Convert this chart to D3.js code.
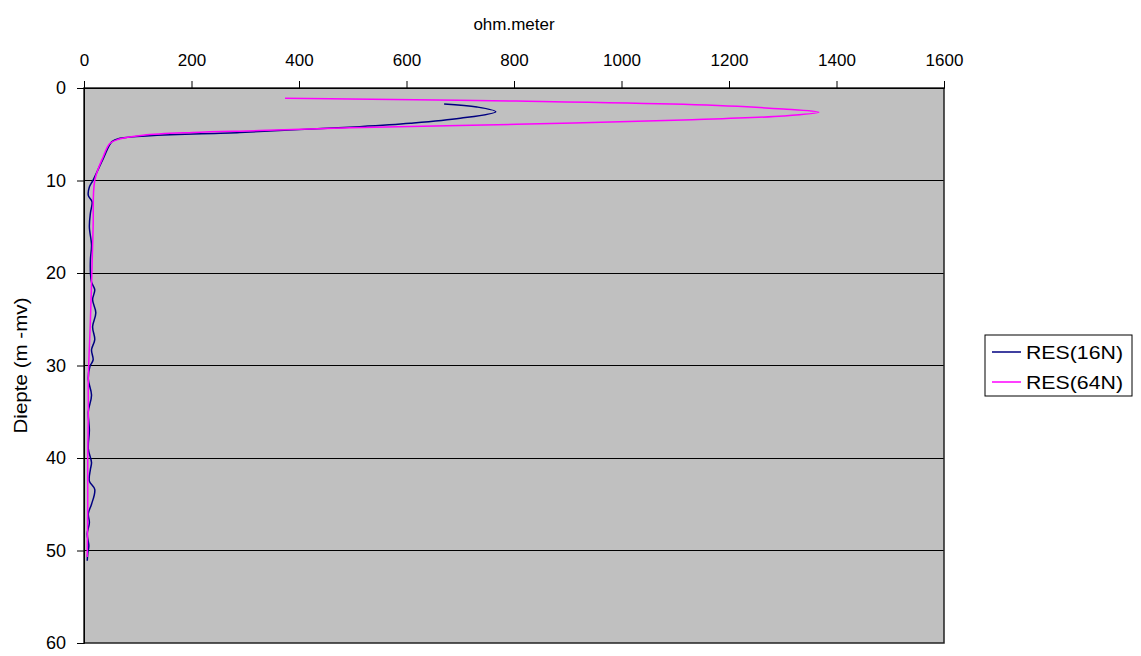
<!DOCTYPE html>
<html><head><meta charset="utf-8">
<script src="https://cdn.jsdelivr.net/npm/d3@7"></script>
<style>body{margin:0;background:#fff}svg{display:block}text{font-family:"Liberation Sans",Arial,sans-serif}</style>
</head><body>
<svg id="c" width="1141" height="656"></svg>
<script>
const xTicks = [0,200,400,600,800,1000,1200,1400,1600];
const yTicks = [0,10,20,30,40,50,60];
const seriesNames = ["RES(16N)","RES(64N)"];
const seriesColors = ["#000080","#FF00FF"];
const depth16 = [1.73,2.05,2.56,3.28,3.82,4.18,4.5,4.8,5.44,5.8,7.6,9.95,10.7,11.6,12.3,13.5,15,17,18.5,20,21,21.8,22.9,24.3,25.8,27.2,28.3,29.4,30.1,31.5,33.2,35,37,39,40.5,41.2,42.5,43.4,45,46,47,48.2,49.5,50.3,51.1];
const res16 = [670,731,766,700,607,513,400,290,67,52,36,17,10,8,15,12,10,14,12,12,14,20,16,22,16,20,14,17,11,8,14,8,10,8,14,12,10,20,14,8,10,6,9,7,6];
const depth64 = [1.12,1.19,1.41,1.77,2.27,2.63,3.03,3.46,3.93,4.3,4.6,4.8,5.1,5.55,6.0,7.4,10,15,20,25,31.5,35,40,45,50.7];
const res64 = [374,495,805,1115,1301,1367,1301,1115,805,495,327,203,110,64,48,36,20,17,14.6,12,8,8,7,7,6];

const svg = d3.select("#c");
const L=84, T=88, R=944, B=643;
const x = d3.scaleLinear().domain([0,1600]).range([L,R]);
const y = d3.scaleLinear().domain([0,60]).range([T,B]);

svg.append("rect").attr("x",L).attr("y",T).attr("width",R-L).attr("height",B-T).attr("fill","#C0C0C0");

svg.append("g").selectAll("line").data(yTicks.filter(d=>d>0&&d<60)).join("line")
  .attr("x1",L).attr("x2",R).attr("y1",d=>y(d)).attr("y2",d=>y(d)).attr("stroke","#000").attr("stroke-width",1).attr("shape-rendering","crispEdges");

const line = d3.line().x(d=>x(d[0])).y(d=>y(d[1])).curve(d3.curveCatmullRom.alpha(0.5));
const series = [d3.zip(res16,depth16), d3.zip(res64,depth64)];
series.forEach((s,i)=>{
  svg.append("path").attr("d",line(s)).attr("fill","none").attr("stroke",seriesColors[i]).attr("stroke-width",1.5);
});

svg.append("rect").attr("x",L).attr("y",T).attr("width",R-L).attr("height",B-T).attr("fill","none").attr("stroke","#222").attr("stroke-width",1.5);

const gx = svg.append("g").attr("transform",`translate(0,${T})`)
  .call(d3.axisTop(x).tickValues(xTicks).tickSize(7).tickPadding(15).tickFormat(d3.format("d")));
const gy = svg.append("g").attr("transform",`translate(${L},0)`)
  .call(d3.axisLeft(y).tickValues(yTicks).tickSize(7).tickPadding(11).tickFormat(d3.format("d")));
[gx,gy].forEach(g=>{
  g.select(".domain").attr("stroke","#000");
  g.selectAll(".tick line").attr("stroke","#000");
  g.selectAll("text").attr("font-size",17).attr("fill","#000").attr("font-family","Liberation Sans, Arial, sans-serif");
});
gy.selectAll("text").attr("font-size",18);

svg.append("text").attr("x",(L+R)/2).attr("y",30).attr("text-anchor","middle").attr("font-size",17).text("ohm.meter");
svg.append("text").attr("transform",`translate(27,${(T+B)/2}) rotate(-90)`).attr("text-anchor","middle").attr("font-size",18)
  .attr("textLength",136).attr("lengthAdjust","spacingAndGlyphs").text("Diepte (m -mv)");

const lg = svg.append("g");
lg.append("rect").attr("x",985).attr("y",335).attr("width",147).attr("height",61).attr("fill","#fff").attr("stroke","#000");
seriesNames.forEach((n,i)=>{
  const yy = 352 + i*30;
  lg.append("line").attr("x1",992).attr("x2",1021).attr("y1",yy).attr("y2",yy).attr("stroke",seriesColors[i]).attr("stroke-width",1.5);
  lg.append("text").attr("x",1026).attr("y",yy+7).attr("font-size",18)
    .attr("textLength",97).attr("lengthAdjust","spacingAndGlyphs").text(n);
});
</script>
</body></html>
